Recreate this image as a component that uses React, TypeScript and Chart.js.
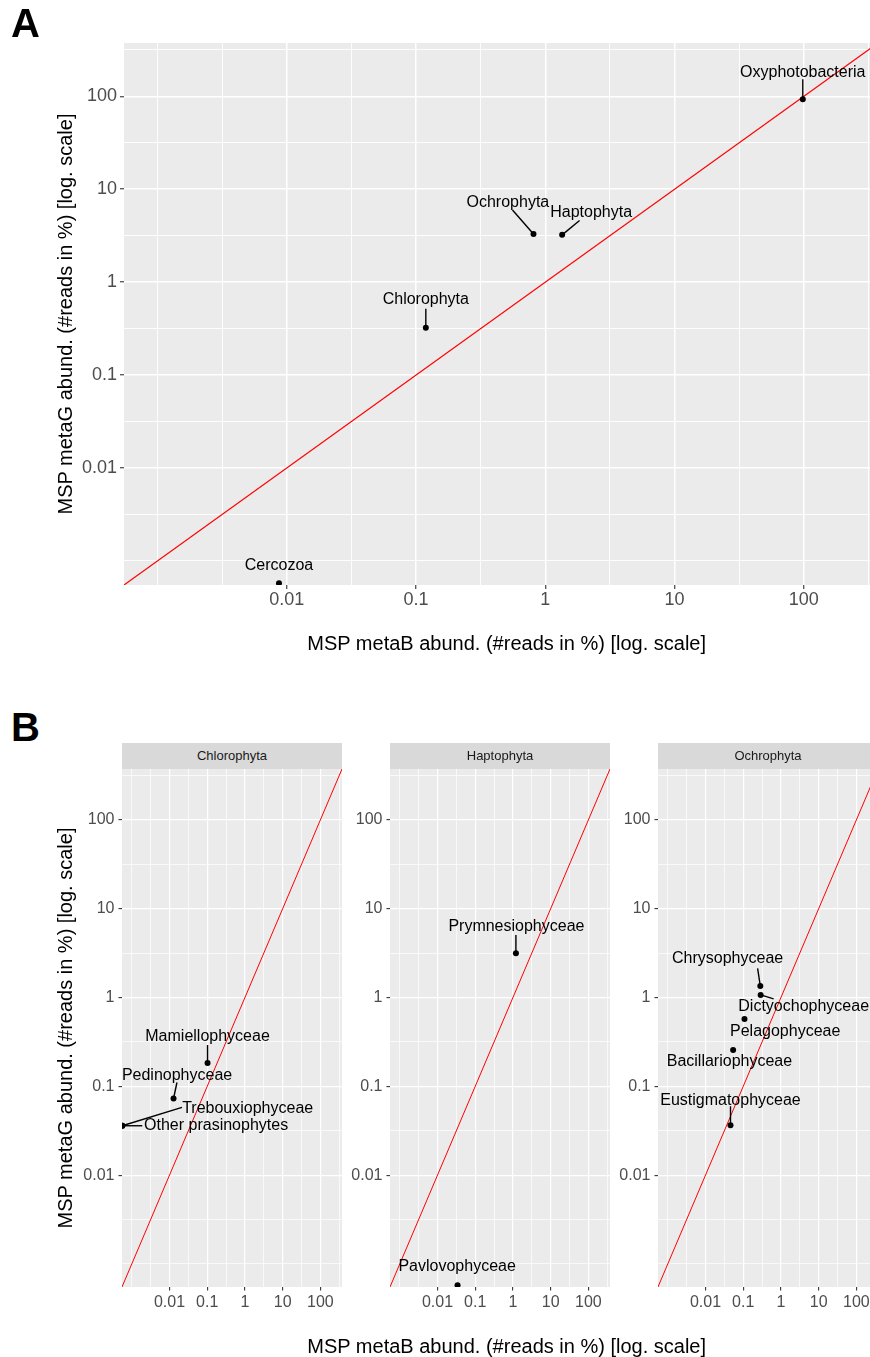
import React, { useEffect, useRef } from "react";
import { Chart, registerables } from "chart.js";

Chart.register(...registerables);

const FONT = "'Liberation Sans', Arial, Helvetica, sans-serif";

// ---------- Panel A : phyla ----------
const phylaA = ["Oxyphotobacteria", "Ochrophyta", "Haptophyta", "Chlorophyta", "Cercozoa"];
const metaB_A = [98.2, 0.81, 1.35, 0.119, 0.0087];
const metaG_A = [92.8, 3.3, 3.23, 0.323, 0.000575];

// ---------- Panel B : classes per phylum ----------
const chloroClasses = ["Mamiellophyceae", "Pedinophyceae", "Trebouxiophyceae", "Other prasinophytes"];
const chloroMetaB = [0.102, 0.0128, 0.00056, 0.00056];
const chloroMetaG = [0.183, 0.073, 0.036, 0.036];

const haptoClasses = ["Prymnesiophyceae", "Pavlovophyceae"];
const haptoMetaB = [1.2, 0.034];
const haptoMetaG = [3.15, 0.000577];

const ochroClasses = ["Chrysophyceae", "Dictyochophyceae", "Pelagophyceae", "Bacillariophyceae", "Eustigmatophyceae"];
const ochroMetaB = [0.284, 0.29, 0.108, 0.054, 0.046];
const ochroMetaG = [1.35, 1.07, 0.572, 0.256, 0.0365];

const facetNames = ["Chlorophyta", "Haptophyta", "Ochrophyta"];

// ---------- axes ----------
const majorTicks = [0.01, 0.1, 1, 10, 100];
const tickLabels = ["0.01", "0.1", "1", "10", "100"];
const minorTicks = [0.001, 0.00316, 0.0316, 0.316, 3.16, 31.6, 316];
const axisMin = 0.00055;
const axisMax = 375;
const identityLine = [0.0001, 10000];

// ---------- label placement (pixel offsets from the point; separate from data) ----------
type Lay = { dx: number; dy: number; sx?: number; sy?: number };
const layoutA: Lay[] = [
  { dx: 0, dy: -27, sx: 0, sy: -20 },
  { dx: -25.6, dy: -31.3, sx: -21, sy: -24 },
  { dx: 29, dy: -22.3, sx: 17.4, sy: -14.3 },
  { dx: 0, dy: -28, sx: 0, sy: -19 },
  { dx: 0, dy: -17.7 },
];
const layoutChloro: Lay[] = [
  { dx: 0, dy: -26.3, sx: 0, sy: -18 },
  { dx: 3.5, dy: -23.3, sx: 3.4, sy: -16 },
  { dx: 125.4, dy: -16.7, sx: 59.7, sy: -18.4 },
  { dx: 93.8, dy: 0, sx: 20, sy: 0 },
];
const layoutHapto: Lay[] = [
  { dx: 0.5, dy: -27, sx: 0, sy: -18.3 },
  { dx: -0.4, dy: -18.3 },
];
const layoutOchro: Lay[] = [
  { dx: -32.7, dy: -27.3, sx: -2.7, sy: -17.7 },
  { dx: 43, dy: 12, sx: 13, sy: 4 },
  { dx: 40.7, dy: 12.7 },
  { dx: -3.7, dy: 11.7 },
  { dx: 0, dy: -24.6, sx: 0, sy: -19 },
];

interface Spec {
  cl: number; ct: number; cw: number; ch: number;
  area: { left: number; top: number; right: number; bottom: number };
  names: string[]; xs: number[]; ys: number[]; lay: Lay[];
  tickFont: number; tickLen: number; xPad: number; yPad: number;
  majorW: number; minorW: number; redW: number;
}

const FACET_LEFTS = [122, 390, 658];
const FACET_W = 220;

const specs: Spec[] = [
  {
    cl: 0, ct: 0, cw: 890, ch: 660,
    area: { left: 124, top: 43, right: 878, bottom: 585 },
    names: phylaA, xs: metaB_A, ys: metaG_A, lay: layoutA,
    tickFont: 18, tickLen: 4, xPad: 0, yPad: 3,
    majorW: 1.5, minorW: 0.9, redW: 1.2,
  },
  ...[
    [chloroClasses, chloroMetaB, chloroMetaG, layoutChloro],
    [haptoClasses, haptoMetaB, haptoMetaG, layoutHapto],
    [ochroClasses, ochroMetaB, ochroMetaG, layoutOchro],
  ].map((f: any, i) => ({
    cl: FACET_LEFTS[i] - 70, ct: 700, cw: 70 + FACET_W + 12, ch: 657,
    area: { left: FACET_LEFTS[i], top: 769, right: FACET_LEFTS[i] + FACET_W, bottom: 1287 },
    names: f[0], xs: f[1], ys: f[2], lay: f[3],
    tickFont: 16, tickLen: 3.5, xPad: 2, yPad: 4,
    majorW: 1.2, minorW: 0.7, redW: 1,
  })),
];

const isMajor = (v: any) => majorTicks.indexOf(v) >= 0;
const allTicks = [...minorTicks, ...majorTicks]
  .filter((v) => v >= axisMin && v <= axisMax)
  .sort((a, b) => a - b);

const bgPlugin = {
  id: "panelBg",
  beforeDraw(chart: any) {
    const { ctx, chartArea } = chart;
    ctx.save();
    ctx.fillStyle = "#EBEBEB";
    ctx.fillRect(chartArea.left, chartArea.top, chartArea.right - chartArea.left, chartArea.bottom - chartArea.top);
    ctx.restore();
  },
};

function makeChart(canvas: HTMLCanvasElement, s: Spec) {
  const yAxisW = s.area.left - s.cl;
  const xAxisH = s.ct + s.ch - s.area.bottom;
  const padTop = s.area.top - s.ct;
  const padRight = s.cl + s.cw - s.area.right;

  const scaleOpts = (axis: "x" | "y") => ({
    type: "logarithmic",
    position: axis === "x" ? "bottom" : "left",
    min: axisMin,
    max: axisMax,
    afterBuildTicks: (scale: any) => {
      scale.ticks = allTicks.map((v) => ({ value: v }));
    },
    afterFit: (scale: any) => {
      if (axis === "x") scale.height = xAxisH;
      else scale.width = yAxisW;
    },
    border: { display: false },
    grid: {
      color: "#FFFFFF",
      lineWidth: (c: any) => (c.tick && isMajor(c.tick.value) ? s.majorW : s.minorW),
      drawTicks: true,
      tickLength: s.tickLen,
      tickColor: (c: any) => (c.tick && isMajor(c.tick.value) ? "#333333" : "rgba(0,0,0,0)"),
      tickWidth: 1.1,
    },
    ticks: {
      autoSkip: false,
      maxRotation: 0,
      minRotation: 0,
      padding: axis === "x" ? s.xPad : s.yPad,
      color: "#4D4D4D",
      font: { family: FONT, size: s.tickFont },
      callback: (v: any) => {
        const i = majorTicks.indexOf(Number(v));
        return i >= 0 ? tickLabels[i] : "";
      },
    },
  });

  const labelPlugin = {
    id: "repelLabels",
    afterDatasetsDraw(chart: any) {
      const ctx = chart.ctx;
      const xs = chart.scales.x;
      const ys = chart.scales.y;
      ctx.save();
      ctx.font = `16px ${FONT}`;
      ctx.textAlign = "center";
      ctx.textBaseline = "middle";
      s.names.forEach((name, i) => {
        const px = xs.getPixelForValue(s.xs[i]);
        const py = ys.getPixelForValue(s.ys[i]);
        const l = s.lay[i];
        if (l.sx !== undefined && l.sy !== undefined) {
          ctx.strokeStyle = "#000000";
          ctx.lineWidth = 1.4;
          ctx.beginPath();
          ctx.moveTo(px, py);
          ctx.lineTo(px + l.sx, py + l.sy);
          ctx.stroke();
        }
        ctx.fillStyle = "#000000";
        ctx.fillText(name, px + l.dx, py + l.dy);
      });
      ctx.restore();
    },
  };

  return new Chart(canvas, {
    type: "scatter",
    data: {
      datasets: [
        {
          type: "line",
          data: identityLine.map((v) => ({ x: v, y: v })),
          borderColor: "#FF0000",
          borderWidth: s.redW,
          pointRadius: 0,
          tension: 0,
          fill: false,
          clip: 0,
          order: 1,
        } as any,
        {
          type: "scatter",
          data: s.xs.map((x, i) => ({ x, y: s.ys[i] })),
          pointRadius: 3,
          pointBackgroundColor: "#000000",
          pointBorderWidth: 0,
          pointBorderColor: "#000000",
          clip: 0,
          order: 0,
        } as any,
      ],
    },
    options: {
      responsive: false,
      animation: false,
      events: [],
      layout: { padding: { left: 0, top: padTop, right: padRight, bottom: 0 } },
      plugins: { legend: { display: false }, tooltip: { enabled: false }, title: { display: false } },
      scales: { x: scaleOpts("x") as any, y: scaleOpts("y") as any },
    } as any,
    plugins: [bgPlugin, labelPlugin],
  });
}

const Y_TITLE = "MSP metaG abund. (#reads in %) [log. scale]";
const X_TITLE = "MSP metaB abund. (#reads in %) [log. scale]";

function RotTitle({ cx, cy }: { cx: number; cy: number }) {
  return (
    <div
      style={{
        position: "absolute",
        left: cx - 300,
        top: cy - 12,
        width: 600,
        height: 24,
        lineHeight: "24px",
        fontSize: 20,
        textAlign: "center",
        color: "#000",
        whiteSpace: "nowrap",
        transform: "rotate(-90deg)",
      }}
    >
      {Y_TITLE}
    </div>
  );
}

function XTitle({ cx, top }: { cx: number; top: number }) {
  return (
    <div
      style={{
        position: "absolute",
        left: cx - 300,
        top,
        width: 600,
        height: 24,
        lineHeight: "24px",
        fontSize: 20,
        textAlign: "center",
        color: "#000",
        whiteSpace: "nowrap",
      }}
    >
      {X_TITLE}
    </div>
  );
}

export default function App() {
  const r0 = useRef<HTMLCanvasElement>(null);
  const r1 = useRef<HTMLCanvasElement>(null);
  const r2 = useRef<HTMLCanvasElement>(null);
  const r3 = useRef<HTMLCanvasElement>(null);
  const refs = [r0, r1, r2, r3];

  useEffect(() => {
    const charts = specs.map((s, i) => makeChart(refs[i].current as HTMLCanvasElement, s));
    return () => charts.forEach((c) => c.destroy());
  }, []);

  return (
    <div
      style={{
        position: "absolute",
        left: 0,
        top: 0,
        width: 870,
        height: 1357,
        overflow: "hidden",
        background: "#FFFFFF",
        fontFamily: FONT,
      }}
    >
      {specs.map((s, i) => (
        <canvas
          key={i}
          ref={refs[i]}
          width={s.cw}
          height={s.ch}
          style={{ position: "absolute", left: s.cl, top: s.ct, width: s.cw, height: s.ch }}
        />
      ))}

      <div style={{ position: "absolute", left: 11, top: 3, fontSize: 40, lineHeight: "40px", fontWeight: "bold", color: "#000" }}>A</div>
      <div style={{ position: "absolute", left: 11, top: 706.5, fontSize: 40, lineHeight: "40px", fontWeight: "bold", color: "#000" }}>B</div>

      <RotTitle cx={65} cy={314} />
      <XTitle cx={506.7} top={630.7} />

      <RotTitle cx={65} cy={1028} />
      <XTitle cx={506.7} top={1333.8} />

      {facetNames.map((n, i) => (
        <div
          key={n}
          style={{
            position: "absolute",
            left: FACET_LEFTS[i],
            top: 743,
            width: FACET_W,
            height: 26,
            background: "#D9D9D9",
            color: "#1A1A1A",
            fontSize: 13,
            lineHeight: "26px",
            textAlign: "center",
            whiteSpace: "nowrap",
          }}
        >
          {n}
        </div>
      ))}
    </div>
  );
}
